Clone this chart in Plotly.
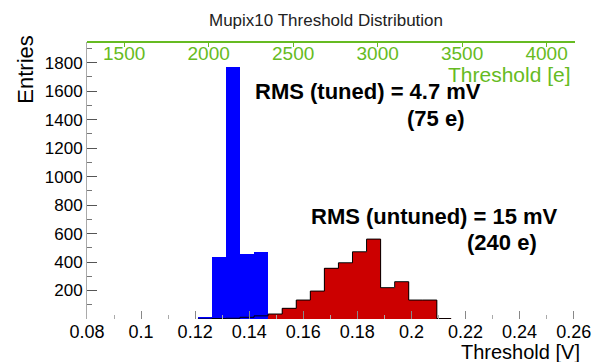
import plotly.graph_objects as go

# histogram binning (threshold in V)
BIN_WIDTH = 0.0052
bin_left = [0.1210, 0.1262, 0.1314, 0.1366, 0.1418, 0.1470, 0.1522, 0.1574,
            0.1626, 0.1678, 0.1730, 0.1782, 0.1834, 0.1886, 0.1938, 0.1990,
            0.2042, 0.2094]
tuned = [8, 433, 1770, 454, 468, 0, 0, 0,
         0, 0, 0, 0, 0, 0, 0, 0,
         0, 0]
untuned = [0, 3, 5, 12, 22, 35, 75, 133,
           196, 356, 395, 472, 561, 220, 262, 133,
           133, 3]

E_PER_V = 16000  # 16 e / mV
x_ticks = [0.08, 0.1, 0.12, 0.14, 0.16, 0.18, 0.2, 0.22, 0.24, 0.26]
x_ticklabels = ["0.08", "0.1", "0.12", "0.14", "0.16", "0.18", "0.2", "0.22", "0.24", "0.26"]
e_ticks = [1500, 2000, 2500, 3000, 3500, 4000]
y_ticks = [200, 400, 600, 800, 1000, 1200, 1400, 1600, 1800]

X_RANGE = [0.08, 0.2605]
Y_RANGE = [0, 1945]

RED = "#cc0000"
BLUE = "#0000ff"
GREEN = "#66bb22"
FONT = "Liberation Sans, Arial, sans-serif"

centers = [b + BIN_WIDTH / 2 for b in bin_left]

fig = go.Figure()

fig.add_trace(go.Bar(
    x=centers, y=untuned, width=BIN_WIDTH,
    marker=dict(color=RED, line=dict(width=0)),
    showlegend=False,
))
# black step outline of the untuned histogram
step_x = bin_left + [bin_left[-1] + BIN_WIDTH]
step_y = untuned + [0]
fig.add_trace(go.Scatter(
    x=step_x, y=step_y, mode="lines",
    line=dict(color="black", width=1, shape="hv"),
    showlegend=False, hoverinfo="skip",
))
fig.add_trace(go.Bar(
    x=centers, y=tuned, width=BIN_WIDTH,
    marker=dict(color=BLUE, line=dict(width=0)),
    showlegend=False,
))
# invisible trace to carry the top (electron) axis
fig.add_trace(go.Scatter(
    x=[X_RANGE[0] * E_PER_V, X_RANGE[1] * E_PER_V], y=[0, 0],
    xaxis="x2", mode="lines", line=dict(width=0),
    showlegend=False, hoverinfo="skip",
))

fig.update_layout(
    width=606, height=362,
    margin=dict(l=87, r=31, t=42, b=43),
    paper_bgcolor="white", plot_bgcolor="white",
    barmode="overlay", bargap=0,
    font=dict(family=FONT, color="black", size=16),
    title=dict(text="Mupix10 Threshold Distribution", x=0.538, xanchor="center",
               y=0.945, yanchor="middle",
               font=dict(size=17, color="#222222")),
    xaxis=dict(
        range=X_RANGE, tickvals=x_ticks, ticktext=x_ticklabels,
        ticks="inside", ticklen=8, tickcolor="#888888",
        minor=dict(ticks="inside", ticklen=4, dtick=0.01, tickcolor="#aaaaaa"),
        showgrid=False, zeroline=False, showline=False,
        tickfont=dict(size=18),
    ),
    # electron scale: drawn along the top edge, labels hanging below the line
    xaxis2=dict(
        overlaying="x", side="bottom", anchor="free", position=1.0,
        range=[X_RANGE[0] * E_PER_V, X_RANGE[1] * E_PER_V],
        tickvals=e_ticks,
        ticks="outside", ticklen=4, tickcolor=GREEN,
        ticklabelstandoff=-10,
        showline=True, linecolor=GREEN, linewidth=1.5,
        showgrid=False, zeroline=False,
        tickfont=dict(size=19, color=GREEN),
    ),
    yaxis=dict(
        range=Y_RANGE, tickvals=y_ticks,
        ticks="inside", ticklen=10, tickcolor="#555555",
        minor=dict(ticks="inside", ticklen=5, dtick=100, tickcolor="#777777"),
        showline=True, linecolor="#aaaaaa", linewidth=1,
        showgrid=False, zeroline=False,
        tickfont=dict(size=17),
    ),
)

fig.add_annotation(text="Entries", xref="paper", yref="paper",
                   x=-0.125, y=0.9, xanchor="center", yanchor="middle",
                   textangle=-90, showarrow=False, font=dict(size=22))
fig.add_annotation(text="Threshold [V]", xref="paper", yref="paper",
                   x=1.014, y=-0.118, xanchor="right", yanchor="middle",
                   showarrow=False, font=dict(size=20))
fig.add_annotation(text="Threshold [e]", xref="paper", yref="paper",
                   x=0.996, y=0.883, xanchor="right", yanchor="middle",
                   showarrow=False, font=dict(size=21, color=GREEN))
fig.add_annotation(text="<b>RMS (tuned) = 4.7 mV</b>", xref="paper", yref="paper",
                   x=0.34, y=0.82, xanchor="left", yanchor="middle",
                   showarrow=False, font=dict(size=22))
fig.add_annotation(text="<b>(75 e)</b>", xref="paper", yref="paper",
                   x=0.715, y=0.725, xanchor="center", yanchor="middle",
                   showarrow=False, font=dict(size=22))
fig.add_annotation(text="<b>RMS (untuned) = 15 mV</b>", xref="paper", yref="paper",
                   x=0.455, y=0.37, xanchor="left", yanchor="middle",
                   showarrow=False, font=dict(size=22))
fig.add_annotation(text="<b>(240 e)</b>", xref="paper", yref="paper",
                   x=0.85, y=0.277, xanchor="center", yanchor="middle",
                   showarrow=False, font=dict(size=22))

# drop the default 8px page margin so the figure sits at the window corner
fig.write_html("out.html", config={"displayModeBar": False},
               post_script="document.body.style.margin='0';")
